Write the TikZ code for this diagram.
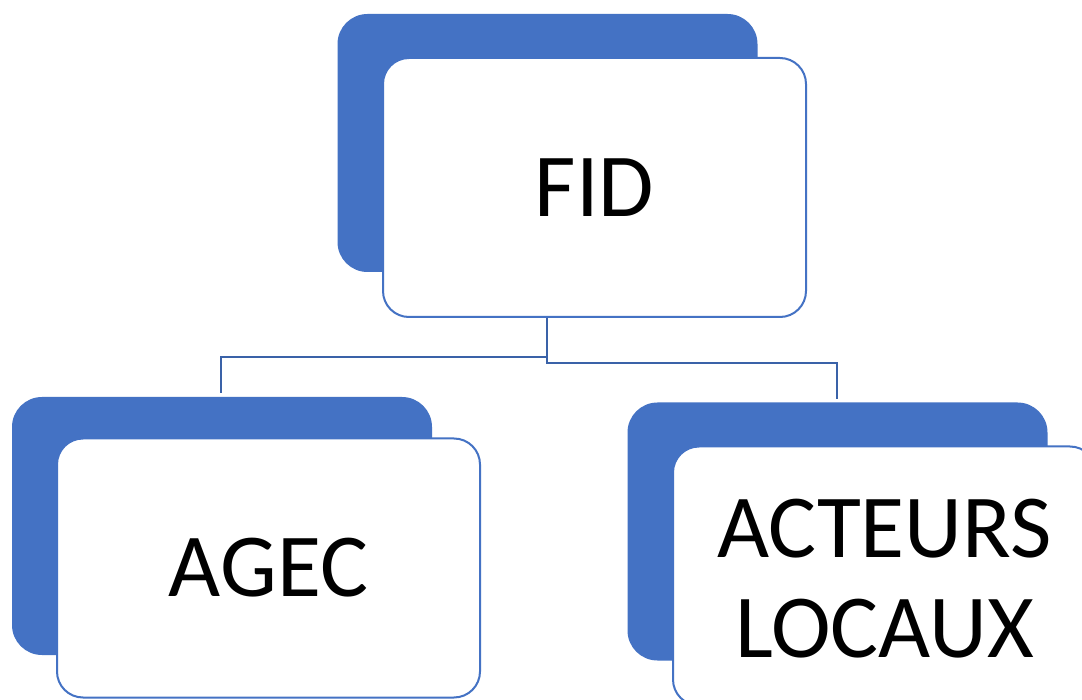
\documentclass[tikz,border=0pt]{standalone}
\usepackage{fontspec}
\setmainfont{Carlito}
\definecolor{accent}{HTML}{4472C4}
\definecolor{connc}{HTML}{3A62A8}
\begin{document}
\begin{tikzpicture}[x=1pt,y=-1pt,
  back/.style={draw=none,fill=accent,rounded corners=30pt,minimum width=420pt,minimum height=258pt,inner sep=0pt},
  front/.style={draw=accent,line width=2pt,fill=white,rounded corners=26pt,minimum width=423pt,minimum height=259pt,inner sep=0pt,align=center,font=\fontsize{90}{100}\selectfont},
  txt/.style={inner sep=0pt,align=center,font=\fontsize{90}{100}\selectfont},
  conn/.style={draw=connc,line width=2.5pt}]
\useasboundingbox (0,0) rectangle (1082,700);
\clip (0,0) rectangle (1082,700);
\fill[white] (0,0) rectangle (1082,700);
% top
\node[back] (fidb) at (547.5,143) {};
\node[front] (fid) at (594.5,187.5) {FID};
% left
\node[back] (agecb) at (222,526) {};
\node[front] (agec) at (268.5,568) {AGEC};
% right
\node[back] (actb) at (837.5,531.5) {};
\node[front] (act) at (884.5,576) {};
\node[txt] (actl) at ([yshift=-3pt]act.center) {ACTEURS\\LOCAUX};
% connectors
\coordinate (lj) at (547,357);
\coordinate (rj) at (547,363);
\coordinate (fs) at (fid.south -| lj);
\coordinate (la) at (221,393);
\coordinate (ra) at (837,399);
\draw[conn] (fs) -- (lj) -| (la);
\draw[conn] (fs) -- (rj) -| (ra);
\end{tikzpicture}
\end{document}
